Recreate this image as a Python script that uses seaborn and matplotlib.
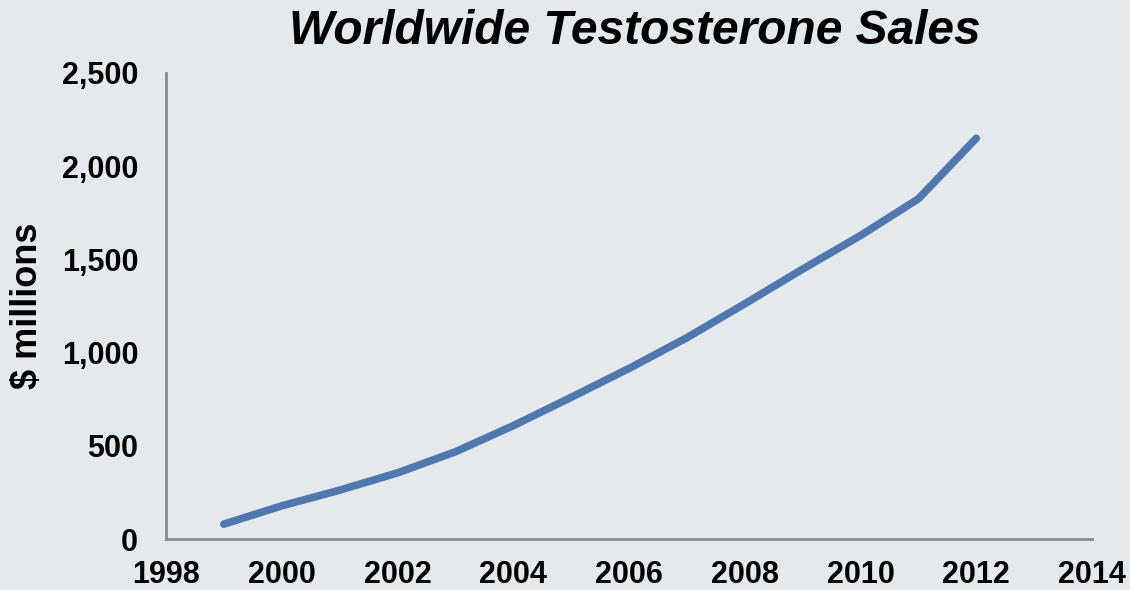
import matplotlib
matplotlib.use("Agg")
import matplotlib.pyplot as plt
import matplotlib.ticker as mtick
import seaborn as sns
import pandas as pd

years = [1999, 2000, 2001, 2002, 2003, 2004, 2005, 2006, 2007, 2008, 2009, 2010, 2011, 2012]
sales = [80, 178, 262, 355, 468, 608, 760, 915, 1080, 1262, 1448, 1628, 1825, 2150]

x_ticks = list(range(1998, 2015, 2))
y_ticks = [0, 500, 1000, 1500, 2000, 2500]

bg = "#E4E9EE"
line_color = "#5078AE"
spine_color = "#8C8C8C"

sns.set_theme(style="white")
plt.rcParams["font.family"] = ["Liberation Sans", "DejaVu Sans"]
plt.rcParams["text.color"] = "black"
plt.rcParams["axes.labelcolor"] = "black"

df = pd.DataFrame({"year": years, "sales": sales})

fig = plt.figure(figsize=(11.3, 5.9), dpi=100, facecolor=bg)
ax = fig.add_axes([0.1469, 0.0864, 0.8195, 0.7899])
ax.set_facecolor(bg)

sns.lineplot(data=df, x="year", y="sales", ax=ax, color=line_color,
             linewidth=5.5, solid_capstyle="round", solid_joinstyle="round")

ax.set_xlim(1998, 2014)
ax.set_ylim(0, 2500)
ax.set_xticks(x_ticks)
ax.set_yticks(y_ticks)
ax.yaxis.set_major_formatter(mtick.StrMethodFormatter("{x:,.0f}"))

ax.tick_params(axis="both", length=0, labelsize=22, colors="black")
ax.tick_params(axis="y", pad=20)
ax.tick_params(axis="x", pad=15)
for lab in ax.get_xticklabels() + ax.get_yticklabels():
    lab.set_fontweight("bold")

for side in ["top", "right"]:
    ax.spines[side].set_visible(False)
for side in ["left", "bottom"]:
    ax.spines[side].set_color(spine_color)
    ax.spines[side].set_linewidth(2)

ax.set_xlabel("")
ax.set_ylabel("$ millions", fontsize=26, fontweight="bold", labelpad=12)

fig.text(0.562, 0.947, "Worldwide Testosterone Sales", ha="center", va="center",
         fontsize=34.5, fontweight="bold", fontstyle="italic")

fig.savefig("out.png", dpi=100, facecolor=bg)
